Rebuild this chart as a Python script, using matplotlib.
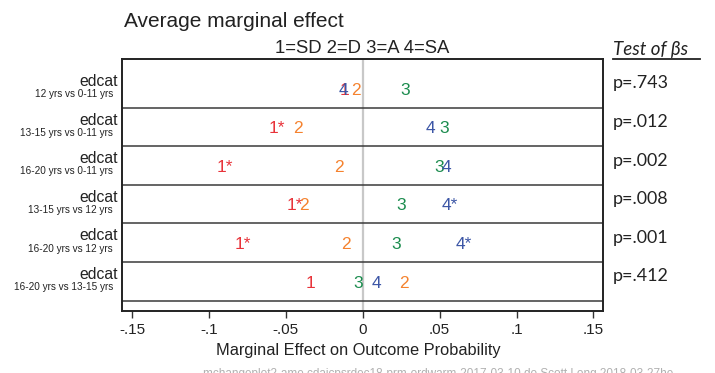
import matplotlib
matplotlib.use('Agg')
from matplotlib import pyplot as plt
from matplotlib.lines import Line2D
import numpy as np

# average marginal effects of edcat contrasts, one list per outcome category
contrasts = ['12 yrs vs 0-11 yrs', '13-15 yrs vs 0-11 yrs', '16-20 yrs vs 0-11 yrs',
             '13-15 yrs vs 12 yrs', '16-20 yrs vs 12 yrs', '16-20 yrs vs 13-15 yrs']
ame_sd = [-0.0117, -0.056, -0.0896, -0.044, -0.078, -0.034]
ame_d = [-0.0045, -0.042, -0.0156, -0.038, -0.011, 0.027]
ame_a = [0.0279, 0.053, 0.050, 0.0247, 0.022, -0.003]
ame_sa = [-0.0123, 0.044, 0.0545, 0.0565, 0.0656, 0.009]
sig_sd = [False, True, True, True, True, False]
sig_d = [False] * 6
sig_a = [False] * 6
sig_sa = [False, False, False, True, True, False]
pvals = ['.743', '.012', '.002', '.008', '.001', '.412']

xticks = [-0.15, -0.1, -0.05, 0, 0.05, 0.1, 0.15]
xticklabels = ['-.15', '-.1', '-.05', '0', '.05', '.1', '.15']

W, H = 715, 373
plt.rcParams['font.family'] = ['Liberation Sans', 'DejaVu Sans']

fig = plt.figure(figsize=(W / 100, H / 100), dpi=100)
ax = fig.add_axes([122 / W, 1 - 310.7 / H, (603 - 122) / W, (310.7 - 59) / H])

rows = np.arange(1, len(contrasts) + 1)
ax.set_xlim(-0.1565, 0.1562)
ax.set_ylim(6.76, 0.24)

ax.axvline(0, color='#c8c8c8', lw=1.6, zorder=0)
for r in rows:
    ax.axhline(r + 0.5, color='#3a3a3a', lw=1.1, zorder=1)

series = [('1', ame_sd, sig_sd, '#e8333a'),
          ('2', ame_d, sig_d, '#f5822e'),
          ('3', ame_a, sig_a, '#1b8c4e'),
          ('4', ame_sa, sig_sa, '#3c56a6')]
for lab, vals, sig, col in series:
    for r, v, s in zip(rows, vals, sig):
        ax.text(v, r + 0.16, lab + ('*' if s else ''), color=col, fontsize=12.5,
                ha='center', va='baseline', zorder=3)

# row labels on the left, p-values on the right
for r, c, p in zip(rows, contrasts, pvals):
    ax.text(-0.1565 - 4 / 1540, r - 0.06, 'edcat', fontsize=11.3, color='#222222',
            ha='right', va='baseline')
    ax.text(-0.1565 - 9 / 1540, r + 0.23, c, fontsize=7.2, color='#222222',
            ha='right', va='baseline')
    fig.text(613 / W, 1 - (88.4 + (r - 1) * 38.6) / H, 'p=' + p, fontsize=12.9,
             family=['Lato', 'DejaVu Sans'], color='#222222', ha='left', va='baseline')

ax.set_xticks(xticks)
ax.set_xticklabels(xticklabels, fontsize=11, color='#222222')
ax.set_yticks([])
ax.tick_params(axis='x', length=5, width=1, pad=4, color='#333333')
for sp in ax.spines.values():
    sp.set_linewidth(1.4)
    sp.set_color('#222222')

fig.text(124 / W, 1 - 26.7 / H, 'Average marginal effect', fontsize=15,
         color='#222222', ha='left', va='baseline')
fig.text(362.5 / W, 1 - 53.3 / H, '1=SD 2=D 3=A 4=SA', fontsize=13.3,
         color='#222222', ha='center', va='baseline')
fig.text(358 / W, 1 - 350.7 / H, 'Marginal Effect on Outcome Probability',
         fontsize=11.8, color='#222222', ha='center', va='center')

fig.text(613 / W, 1 - 55 / H, 'Test of βs', fontsize=13.5, style='italic',
         family=['Lato', 'DejaVu Sans'], color='#222222', ha='left', va='baseline')
fig.add_artist(Line2D([613 / W, 700 / W], [1 - 58.5 / H] * 2, color='#222222',
                      lw=1.3, transform=fig.transFigure))

fig.text(203 / W, 1 - 368 / H,
         'mchangeplot2-ame cdaicpsrdec18-prm-ordwarm-2017-03-10.do Scott Long 2018-03-27he',
         fontsize=8.5, color='#b0b0b0', ha='left', va='top')

fig.savefig('out.png', dpi=100)
